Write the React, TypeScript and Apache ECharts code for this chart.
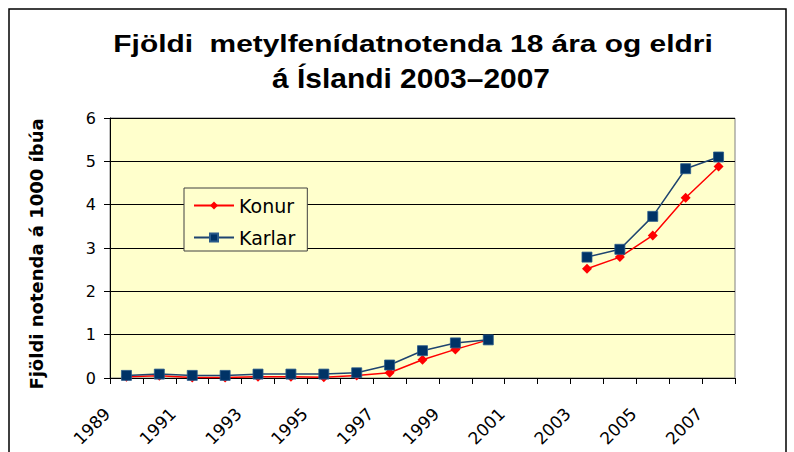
import React, { useEffect, useRef } from "react";
import * as echarts from "echarts";

const years = [
  "1989", "1990", "1991", "1992", "1993", "1994", "1995", "1996", "1997", "1998",
  "1999", "2000", "2001", "2002", "2003", "2004", "2005", "2006", "2007",
];
const konur = [
  0.03, 0.05, 0.01, 0.01, 0.03, 0.03, 0.02, 0.06, 0.12, 0.42,
  0.66, 0.88, null, null, 2.52, 2.79, 3.29, 4.16, 4.88,
];
const karlar = [
  0.06, 0.09, 0.06, 0.06, 0.09, 0.09, 0.09, 0.12, 0.3, 0.63,
  0.81, 0.88, null, null, 2.79, 2.97, 3.73, 4.83, 5.1,
];
const yMin = 0;
const yMax = 6;
const yStep = 1;
const labelYearFirst = 1989;
const labelYearLast = 2008;

const titleLine1 = "Fjöldi  metylfenídatnotenda 18 ára og eldri";
const titleLine2 = "á Íslandi 2003–2007";
const yAxisTitle = "Fjöldi notenda á 1000 íbúa";

export default function App() {
  const ref = useRef<HTMLDivElement>(null);
  useEffect(() => {
    if (!ref.current) return;
    const chart = echarts.init(ref.current, undefined, { renderer: "svg" });
    const axisFont = { fontSize: 16, fontFamily: "DejaVu Sans", color: "#000" };
    chart.setOption({
      animation: false,
      backgroundColor: "#fff",
      grid: {
        left: 110,
        right: 59,
        top: 118,
        bottom: 74,
        show: true,
        backgroundColor: "#FFFFCC",
        borderColor: "#808080",
        borderWidth: 1,
      },
      graphic: [
        {
          type: "rect",
          silent: true,
          z: -10,
          shape: { x: 9, y: 9, width: 777, height: 460 },
          style: { fill: "none", stroke: "#000", lineWidth: 1.5 },
        },
        {
          type: "text",
          x: 413,
          y: 44,
          scaleX: 1.3,
          style: {
            text: titleLine1,
            fontSize: 23,
            fontWeight: "bold",
            fontFamily: "Liberation Sans, Arial",
            fill: "#000",
            align: "center",
            verticalAlign: "middle",
          },
        },
        {
          type: "text",
          x: 411,
          y: 78,
          scaleX: 1.07,
          style: {
            text: titleLine2,
            fontSize: 28,
            fontWeight: "bold",
            fontFamily: "Liberation Sans, Arial",
            fill: "#000",
            align: "center",
            verticalAlign: "middle",
          },
        },
        {
          type: "text",
          x: 36,
          y: 254,
          rotation: Math.PI / 2,
          style: {
            text: yAxisTitle,
            fontSize: 18,
            fontWeight: "bold",
            fontFamily: "DejaVu Sans",
            fill: "#000",
            align: "center",
            verticalAlign: "middle",
          },
        },
      ],
      legend: {
        data: ["Konur", "Karlar"],
        orient: "vertical",
        left: 184,
        top: 188,
        itemWidth: 40,
        itemHeight: 10,
        itemGap: 13,
        padding: [8, 12, 4, 9],
        backgroundColor: "#FFFFCC",
        borderColor: "#404040",
        borderWidth: 1,
        textStyle: { fontSize: 19, fontFamily: "DejaVu Sans", color: "#000" },
      },
      xAxis: [
        {
          type: "category",
          data: years,
          boundaryGap: true,
          axisLine: { show: true, lineStyle: { color: "#000", width: 1 } },
          axisTick: { show: true, interval: 0, length: 6, lineStyle: { color: "#000" } },
          axisLabel: { show: false },
          splitLine: { show: false },
        },
        {
          type: "value",
          min: labelYearFirst,
          max: labelYearLast,
          interval: 1,
          position: "bottom",
          axisLine: { show: false },
          axisTick: { show: false },
          splitLine: { show: false },
          axisLabel: {
            ...axisFont,
            fontSize: 17,
            rotate: 45,
            margin: 30,
            padding: [0, 4, 0, 0],
            formatter: (v: number) => (v % 2 === 1 ? String(v) : ""),
          },
        },
      ],
      yAxis: {
        type: "value",
        min: yMin,
        max: yMax,
        interval: yStep,
        axisLine: { show: true, lineStyle: { color: "#000", width: 1 } },
        axisTick: { show: true, length: 6, lineStyle: { color: "#000" } },
        axisLabel: { ...axisFont, margin: 14 },
        splitLine: { show: true, lineStyle: { color: "#000", width: 1 } },
      },
      series: [
        {
          name: "Konur",
          type: "line",
          xAxisIndex: 0,
          data: konur,
          connectNulls: false,
          symbol: "diamond",
          symbolSize: 10,
          itemStyle: { color: "#FF0000" },
          lineStyle: { color: "#FF0000", width: 1.5 },
        },
        {
          name: "Karlar",
          type: "line",
          xAxisIndex: 0,
          data: karlar,
          connectNulls: false,
          symbol: "rect",
          symbolSize: 10,
          itemStyle: { color: "#003366", borderColor: "#2A5A8A", borderWidth: 0.8 },
          lineStyle: { color: "#1F4470", width: 1.5 },
        },
      ],
    });
    return () => chart.dispose();
  }, []);
  return (
    <div
      ref={ref}
      style={{ position: "absolute", left: 0, top: 0, width: 794, height: 452 }}
    />
  );
}
